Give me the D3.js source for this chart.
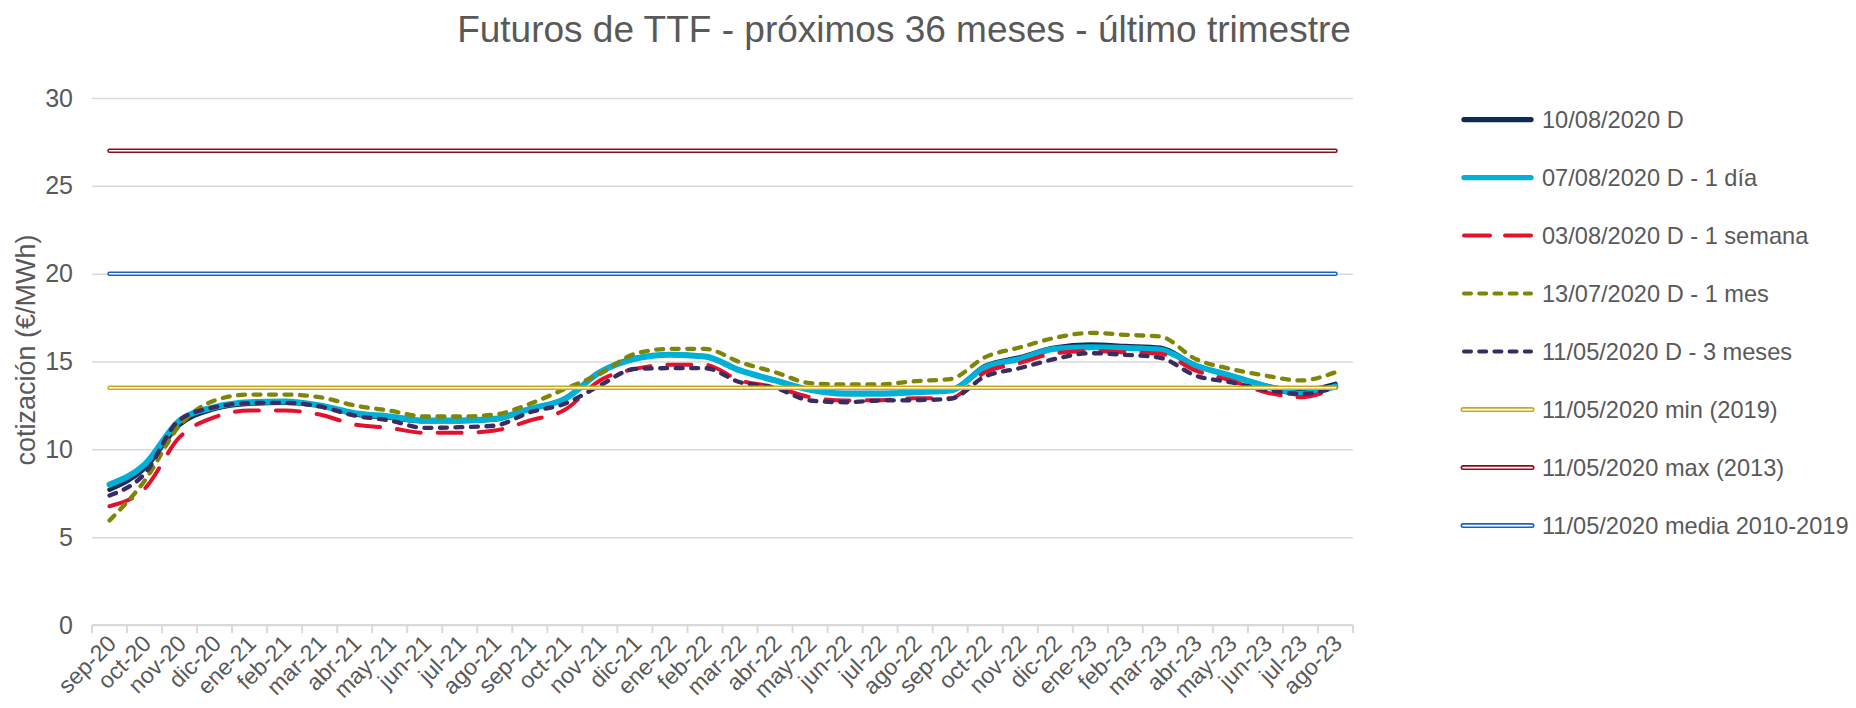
<!DOCTYPE html>
<html>
<head>
<meta charset="utf-8">
<script src="https://cdn.jsdelivr.net/npm/d3@7"></script>
<style>
  body { margin: 0; background: #fff; }
  svg { font-family: "Liberation Sans", Arial, sans-serif; }
</style>
</head>
<body>
<script>
const months = ['sep-20','oct-20','nov-20','dic-20','ene-21','feb-21','mar-21','abr-21','may-21','jun-21','jul-21','ago-21',
  'sep-21','oct-21','nov-21','dic-21','ene-22','feb-22','mar-22','abr-22','may-22','jun-22','jul-22','ago-22',
  'sep-22','oct-22','nov-22','dic-22','ene-23','feb-23','mar-23','abr-23','may-23','jun-23','jul-23','ago-23'];

const yTicks = [0, 5, 10, 15, 20, 25, 30];

const d10_08 = [7.7, 8.9, 11.4, 12.3, 12.6, 12.65, 12.5, 12.0, 11.8, 11.6, 11.6, 11.7,
  12.3, 12.9, 14.4, 15.2, 15.4, 15.3, 14.5, 13.95, 13.4, 13.2, 13.2, 13.25,
  13.35, 14.75, 15.25, 15.8, 15.97, 15.88, 15.78, 14.8, 14.2, 13.63, 13.35, 13.73];
const d07_08 = [8.0, 9.13, 11.64, 12.4, 12.68, 12.72, 12.5, 12.06, 11.87, 11.64, 11.64, 11.74,
  12.3, 12.87, 14.39, 15.15, 15.38, 15.28, 14.49, 13.92, 13.39, 13.16, 13.16, 13.25,
  13.35, 14.68, 15.15, 15.72, 15.81, 15.77, 15.67, 14.77, 14.2, 13.6, 13.16, 13.58];
const d03_08 = [6.76, 7.75, 10.69, 11.83, 12.21, 12.21, 11.98, 11.41, 11.22, 10.94, 10.94, 11.07,
  11.64, 12.25, 13.92, 14.58, 14.81, 14.81, 13.92, 13.54, 12.97, 12.78, 12.8, 12.91,
  12.91, 14.39, 14.92, 15.47, 15.59, 15.53, 15.44, 14.49, 13.92, 13.25, 12.97, 13.5];
const d13_07 = [5.95, 8.2, 11.35, 12.78, 13.12, 13.12, 12.97, 12.5, 12.2, 11.87, 11.87, 11.98,
  12.59, 13.44, 14.3, 15.44, 15.72, 15.72, 14.96, 14.39, 13.77, 13.69, 13.7, 13.88,
  14.0, 15.25, 15.81, 16.35, 16.63, 16.52, 16.42, 15.15, 14.58, 14.2, 13.92, 14.39];
const d11_05 = [7.37, 8.6, 11.68, 12.4, 12.63, 12.65, 12.44, 11.92, 11.64, 11.22, 11.26, 11.35,
  12.11, 12.6, 13.63, 14.58, 14.62, 14.62, 13.82, 13.5, 12.78, 12.68, 12.78, 12.8,
  12.87, 14.15, 14.63, 15.15, 15.47, 15.38, 15.21, 14.2, 13.82, 13.39, 13.16, 13.5];
const minValue = 13.5;
const maxValue = 27;
const mediaValue = 20;

const seriesNames = ['10/08/2020 D', '07/08/2020 D - 1 día', '03/08/2020 D - 1 semana', '13/07/2020 D - 1 mes',
  '11/05/2020 D - 3 meses', '11/05/2020 min (2019)', '11/05/2020 max (2013)', '11/05/2020 media 2010-2019'];

const width = 1856;
const height = 708;
const textColor = '#595959';
const gridColor = '#d9d9d9';

// series styles, same order as legend
const series = [
  { name: seriesNames[0], values: d10_08, color: '#0c2c54', w: 4.5, dash: null },
  { name: seriesNames[1], values: d07_08, color: '#00b0d6', w: 6, dash: null },
  { name: seriesNames[2], values: d03_08, color: '#e5102c', w: 4, dash: '24,17' },
  { name: seriesNames[3], values: d13_07, color: '#7f8506', w: 4.3, dash: '7,8.5' },
  { name: seriesNames[4], values: d11_05, color: '#3b2b5e', w: 4.3, dash: '7,8.5' },
  { name: seriesNames[5], values: months.map(() => minValue), color: '#c8a81c', double: true },
  { name: seriesNames[6], values: months.map(() => maxValue), color: '#8e0c1a', double: true },
  { name: seriesNames[7], values: months.map(() => mediaValue), color: '#1a64bb', double: true }
];

const svg = d3.select('body')
  .append('svg')
  .attr('width', width)
  .attr('height', height);

const x = d3.scaleBand()
  .domain(months)
  .range([92, 1353]);
const cx = d => x(d) + x.bandwidth() / 2;

const y = d3.scaleLinear()
  .domain([0, 30])
  .range([625, 98]);

// Title
svg.append('text')
  .attr('x', 904)
  .attr('y', 42)
  .attr('text-anchor', 'middle')
  .attr('font-size', 37)
  .attr('fill', textColor)
  .text('Futuros de TTF - próximos 36 meses - último trimestre');

// Gridlines + y labels
const yAxis = d3.axisLeft(y)
  .tickValues(yTicks)
  .tickSize(-(x.range()[1] - x.range()[0]))
  .tickPadding(19);

svg.append('g')
  .attr('transform', `translate(${x.range()[0]},0)`)
  .call(yAxis)
  .call(g => g.select('.domain').remove())
  .call(g => g.selectAll('line').attr('stroke', gridColor).attr('stroke-width', 1.5))
  .call(g => g.selectAll('text').attr('fill', textColor).attr('font-size', 25).attr('font-family', null));

// y title
svg.append('text')
  .attr('transform', 'translate(35,350) rotate(-90)')
  .attr('text-anchor', 'middle')
  .attr('font-size', 27)
  .attr('fill', textColor)
  .text('cotización (€/MWh)');

// x axis line and tick marks between categories
const xg = svg.append('g');
xg.append('line')
  .attr('x1', x.range()[0]).attr('x2', x.range()[1])
  .attr('y1', y(0)).attr('y2', y(0))
  .attr('stroke', gridColor).attr('stroke-width', 2);
xg.selectAll('line.tick')
  .data(months.map(m => x(m)).concat([x.range()[1]]))
  .join('line')
  .attr('class', 'tick')
  .attr('x1', d => d).attr('x2', d => d)
  .attr('y1', y(0)).attr('y2', y(0) + 8)
  .attr('stroke', gridColor).attr('stroke-width', 2);

xg.selectAll('text')
  .data(months)
  .join('text')
  .attr('transform', d => `translate(${cx(d) + 8},${y(0) + 20}) rotate(-45)`)
  .attr('text-anchor', 'end')
  .attr('font-size', 23)
  .attr('fill', textColor)
  .text(d => d);

// lines
const line = d3.line()
  .x((d, i) => cx(months[i]))
  .y(d => y(d))
  .curve(d3.curveMonotoneX);

const plot = svg.append('g');
series.forEach(s => {
  if (s.double) {
    plot.append('path').attr('d', line(s.values)).attr('fill', 'none')
      .attr('stroke', s.color).attr('stroke-width', 4.5).attr('stroke-linecap', 'round');
    plot.append('path').attr('d', line(s.values)).attr('fill', 'none')
      .attr('stroke', '#fff').attr('stroke-width', 1.5).attr('stroke-linecap', 'round');
  } else {
    plot.append('path').attr('d', line(s.values)).attr('fill', 'none')
      .attr('stroke', s.color).attr('stroke-width', s.w)
      .attr('stroke-linecap', 'round').attr('stroke-linejoin', 'round')
      .attr('stroke-dasharray', s.dash);
  }
});

// legend
const legend = svg.append('g');
const item = legend.selectAll('g')
  .data(series)
  .join('g')
  .attr('transform', (d, i) => `translate(0,${119.6 + i * 58})`);

item.each(function(s) {
  const g = d3.select(this);
  if (s.double) {
    g.append('line').attr('x1', 1463).attr('x2', 1532).attr('stroke', s.color)
      .attr('stroke-width', 5).attr('stroke-linecap', 'round');
    g.append('line').attr('x1', 1463).attr('x2', 1532).attr('stroke', '#fff')
      .attr('stroke-width', 1.8).attr('stroke-linecap', 'round');
  } else {
    g.append('line').attr('x1', 1464).attr('x2', 1531).attr('stroke', s.color)
      .attr('stroke-width', s.dash ? 4 : 5.3).attr('stroke-linecap', 'round')
      .attr('stroke-dasharray', s.dash ? (s.dash === '24,17' ? '26,15' : '7,8.2') : null);
  }
});

item.append('text')
  .attr('x', 1542)
  .attr('dy', '0.36em')
  .attr('font-size', 23.6)
  .attr('fill', textColor)
  .text(d => d.name);
</script>
</body>
</html>
